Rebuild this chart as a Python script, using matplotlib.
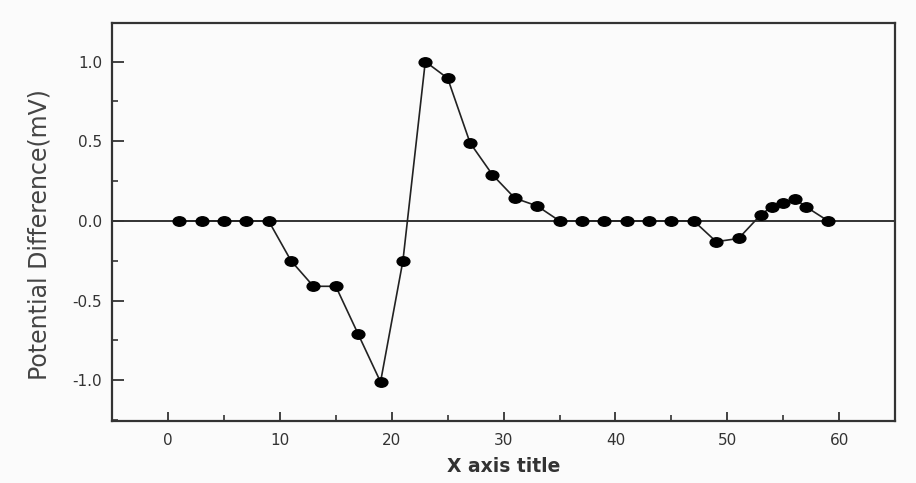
import numpy as np
import matplotlib
matplotlib.use("Agg")
import matplotlib.pyplot as plt
from matplotlib.ticker import MultipleLocator, FormatStrFormatter
from matplotlib.path import Path
from matplotlib.transforms import Affine2D

# values
x_vals = [1, 3, 5, 7, 9, 11, 13, 15, 17, 19, 21, 23, 25, 27, 29, 31, 33,
          35, 37, 39, 41, 43, 45, 47, 49, 51, 53, 54, 55, 56, 57, 59]
pd_vals = [0.0, 0.0, 0.0, 0.0, 0.0, -0.25, -0.41, -0.41, -0.71, -1.01, -0.25,
           1.0, 0.895, 0.49, 0.29, 0.143, 0.094,
           0.0, 0.0, 0.0, 0.0, 0.0, 0.0, 0.0, -0.13, -0.11, 0.04, 0.09, 0.11,
           0.14, 0.09, 0.0]

x_label = "X axis title"
y_label = "Potential Difference(mV)"

plt.rcParams['axes.unicode_minus'] = False
plt.rcParams['font.family'] = ['DejaVu Sans']

# the scan is a bit stretched sideways, so the dots are slightly oval
oval = Path.unit_circle().transformed(Affine2D().scale(1.35, 1.0))

fig = plt.figure(figsize=(9.16, 4.83), dpi=100, facecolor='#fbfbfb')
ax = fig.add_axes([0.1223, 0.1284, 0.855, 0.825])
ax.set_facecolor('#fbfbfb')

ax.axhline(0, color='#222222', lw=1.3, zorder=1)
ax.plot(x_vals, pd_vals, color='#222222', lw=1.2, marker=oval,
        markersize=9.2, markerfacecolor='black', markeredgecolor='black',
        zorder=3)

ax.set_xlim(-5, 65)
ax.set_ylim(-1.255, 1.245)

ax.xaxis.set_major_locator(MultipleLocator(10))
ax.xaxis.set_minor_locator(MultipleLocator(5))
ax.yaxis.set_major_locator(MultipleLocator(0.5))
ax.yaxis.set_minor_locator(MultipleLocator(0.25))
ax.yaxis.set_major_formatter(FormatStrFormatter('%.1f'))

ax.tick_params(axis='both', which='both', direction='in', color='#333333',
               labelcolor='#333333', labelsize=11)
ax.tick_params(axis='y', which='major', length=8.5, width=1.3, pad=7)
ax.tick_params(axis='y', which='minor', length=4.5, width=1.2)
ax.tick_params(axis='x', which='major', length=6.5, width=1.3, pad=9)
ax.tick_params(axis='x', which='minor', length=4, width=1.2)

for sp in ax.spines.values():
    sp.set_linewidth(1.6)
    sp.set_color('#333333')

ax.set_xlabel(x_label, fontsize=13.5, fontweight='bold', color='#333333',
              labelpad=6)
ax.set_ylabel(y_label, fontsize=17, color='#444444')
ax.yaxis.set_label_coords(-0.077, 0.467)

fig.savefig("out.png", dpi=100, facecolor=fig.get_facecolor())
